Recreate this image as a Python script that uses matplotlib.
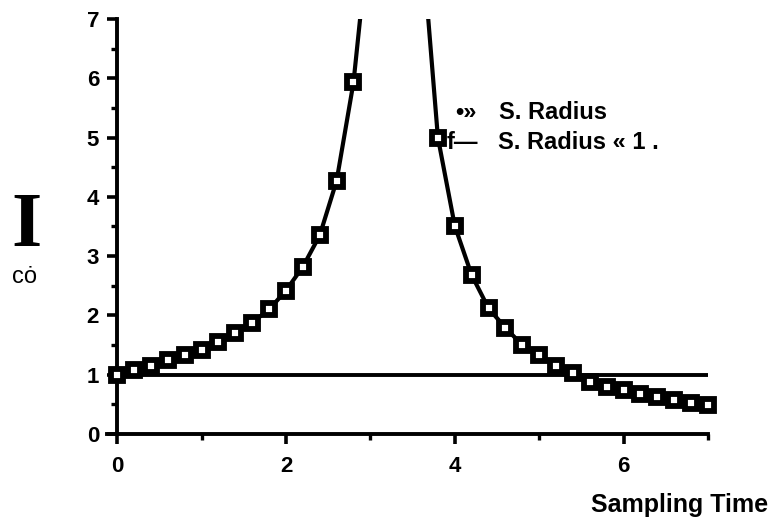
import numpy as np
import matplotlib
matplotlib.use("Agg")
import matplotlib.pyplot as plt
from matplotlib.ticker import MultipleLocator

# spectral radius vs sampling time
t_left = [0.0, 0.2, 0.4, 0.6, 0.8, 1.0, 1.2, 1.4, 1.6, 1.8, 2.0, 2.2, 2.4, 2.6, 2.8]
r_left = [1.0, 1.08, 1.15, 1.25, 1.33, 1.42, 1.55, 1.70, 1.88, 2.10, 2.42, 2.82, 3.35, 4.27, 5.93]
t_right = [3.8, 4.0, 4.2, 4.4, 4.6, 4.8, 5.0, 5.2, 5.4, 5.6, 5.8, 6.0, 6.2, 6.4, 6.6, 6.8, 7.0]
r_right = [5.0, 3.51, 2.68, 2.12, 1.79, 1.50, 1.33, 1.15, 1.03, 0.88, 0.80, 0.75, 0.68, 0.62, 0.57, 0.52, 0.49]
# where the curve leaves the top of the frame (no markers there)
t_top = [2.9, 3.68]
r_top = [7.3, 7.1]

t_unit = [0.0, 7.0]
r_unit = [1.0, 1.0]

plt.rcParams['font.family'] = ['Liberation Sans', 'DejaVu Sans']

fig = plt.figure(figsize=(7.76, 5.23), dpi=100)
ax = fig.add_axes([0.1379, 0.1702, 0.9124 - 0.1379, 0.9637 - 0.1702])

lw = 3.0
ax.plot(t_left + [t_top[0]], r_left + [r_top[0]], color='black', lw=lw)
ax.plot([t_top[1]] + t_right, [r_top[1]] + r_right, color='black', lw=lw)
ax.plot(t_left + t_right, r_left + r_right, ls='none', marker='s', ms=9,
        mfc='white', mec='black', mew=4.2, clip_on=False, zorder=3)
ax.plot(t_unit, r_unit, color='black', lw=2.8)

ax.set_xlim(-0.12, 7.0)
ax.set_ylim(0, 7)

for s in ['top', 'right']:
    ax.spines[s].set_visible(False)
ax.spines['left'].set_position(('data', 0))
ax.spines['left'].set_linewidth(2.8)
ax.spines['bottom'].set_linewidth(2.8)

ax.xaxis.set_major_locator(MultipleLocator(2))
ax.xaxis.set_minor_locator(MultipleLocator(1))
ax.yaxis.set_major_locator(MultipleLocator(1))
ax.yaxis.set_minor_locator(MultipleLocator(0.5))
ax.tick_params(which='major', direction='out', length=7, width=2.6,
               labelsize=16, pad=6)
ax.tick_params(which='minor', direction='out', length=4, width=2.4)
ax.tick_params(axis='x', which='major', pad=9)
for lab in ax.get_xticklabels() + ax.get_yticklabels():
    lab.set_fontweight('bold')

# legend text as it appears in the scan
ax.text(4.0, 5.43, '•»', fontsize=17, fontweight='bold', va='center', ha='left')
ax.text(4.52, 5.43, 'S. Radius', fontsize=17, fontweight='bold', va='center', ha='left')
ax.text(3.9, 4.92, 'f—', fontsize=17, fontweight='bold', va='center', ha='left')
ax.text(4.51, 4.92, 'S. Radius « 1 .', fontsize=17, fontweight='bold', va='center', ha='left')

fig.text(768 / 776, 1 - 505 / 523, 'Sampling Time', fontsize=18, fontweight='bold',
         ha='right', va='center')
fig.text(26 / 776, 1 - 228 / 523, 'I', fontsize=56, fontweight='bold',
         family=['Liberation Serif', 'DejaVu Serif'], ha='center', va='center')
fig.text(25 / 776, 1 - 277 / 523, 'cȯ', fontsize=17, ha='center', va='center')

fig.savefig('out.png', dpi=100)
